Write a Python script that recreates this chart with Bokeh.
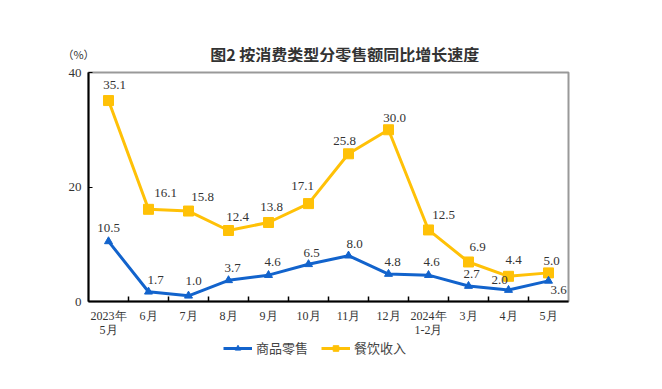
from bokeh.plotting import figure
from bokeh.layouts import column
from bokeh.models import (ColumnDataSource, LabelSet, Label, Range1d, FixedTicker,
                          Legend, LegendItem, LinearAxis)
from bokeh.embed import file_html
from bokeh.resources import INLINE

# ---- data ----
months = ["2023年\n5月", "6月", "7月", "8月", "9月", "10月", "11月", "12月", "2024年\n1-2月", "3月", "4月", "5月"]
goods = [10.5, 1.7, 1.0, 3.7, 4.6, 6.5, 8.0, 4.8, 4.6, 2.7, 2.0, 3.6]
catering = [35.1, 16.1, 15.8, 12.4, 13.8, 17.1, 25.8, 30.0, 12.5, 6.9, 4.4, 5.0]
y_ticks = [0, 20, 40]
series_names = ["商品零售", "餐饮收入"]
title_text = "图2  按消费类型分零售额同比增长速度"
unit_text = "（%）"

# ---- label offsets (style, px) ----
goods_dx = [0, 7, 5, 4, 4, 3, 6, 4, 3, 3, -9, 10]
goods_dy = [13, 12, 15, 12, 13, 11, 12, 12, 13, 12, 10, -9]
cat_dx = [6, 17, 14, 9, 3, -6, -4, 6, 15, 9, 5, 3]
cat_dy = [16, 16, 14, 14, 15, 18, 13, 12, 15, 15, 16, 12]

BLUE = "#1263CC"
YELLOW = "#FFC107"
TXT = "#333333"
SERIF = "Liberation Serif"
CJK = "Noto Sans CJK SC"
W = 656

n = len(goods)
xs = list(range(n))


def blank(fig):
    fig.xgrid.visible = False
    fig.ygrid.visible = False
    fig.outline_line_color = None
    fig.background_fill_color = "white"
    fig.border_fill_color = "white"


# ---- title strip ----
pt = figure(width=W, height=62, output_backend="svg", toolbar_location=None,
            x_range=Range1d(0, W), y_range=Range1d(0, 62),
            x_axis_location=None, y_axis_location=None, frame_align=False,
            min_border=0, min_border_left=0, min_border_right=0, min_border_top=0, min_border_bottom=0)
blank(pt)
pt.add_layout(Label(x=346, y=9, x_units="screen", y_units="screen", text=title_text,
                    text_align="center", text_baseline="middle", text_font=CJK,
                    text_font_size="16px", text_font_style="bold", text_color=TXT))
pt.add_layout(Label(x=78, y=9, x_units="screen", y_units="screen", text=unit_text,
                    text_align="center", text_baseline="middle", text_font=CJK,
                    text_font_size="11px", text_color=TXT))

# ---- main chart ----
p = figure(width=W, height=277, output_backend="svg", toolbar_location=None,
           x_range=Range1d(-0.5, n - 0.5), y_range=Range1d(0, 40),
           x_axis_location=None,
           min_border_left=88, min_border_right=88, min_border_top=10, min_border_bottom=38)
blank(p)
p.outline_line_color = "#999999"
p.outline_line_width = 2

p.yaxis.ticker = FixedTicker(ticks=y_ticks)
p.yaxis.axis_line_color = "black"
p.yaxis.axis_line_width = 2
p.yaxis.major_tick_in = 4
p.yaxis.major_tick_out = 0
p.yaxis.minor_tick_line_color = None
p.yaxis.major_tick_line_color = "black"
p.yaxis.major_label_text_font = SERIF
p.yaxis.major_label_text_font_size = "13px"
p.yaxis.major_label_text_color = TXT
p.yaxis.major_label_standoff = 7

xb = LinearAxis(ticker=FixedTicker(ticks=[i + 0.5 for i in range(n - 1)]),
                axis_line_color="black", axis_line_width=2, major_tick_in=5, major_tick_out=0,
                major_tick_line_width=1.5, minor_tick_line_color=None,
                major_label_text_font_size="0px", major_label_standoff=0)
p.add_layout(xb, "below")

xl = LinearAxis(ticker=FixedTicker(ticks=xs),
                major_label_overrides={i: m for i, m in enumerate(months)},
                axis_line_color=None, major_tick_line_color=None, minor_tick_line_color=None,
                major_tick_in=0, major_tick_out=0,
                major_label_text_font=SERIF, major_label_text_font_size="12px",
                major_label_text_line_height=1.0,
                major_label_text_color=TXT, major_label_standoff=7)
p.add_layout(xl, "below")

src_g = ColumnDataSource(dict(x=xs, y=goods, t=[f"{v:.1f}" for v in goods], dx=goods_dx, dy=goods_dy))
src_c = ColumnDataSource(dict(x=xs, y=catering, t=[f"{v:.1f}" for v in catering], dx=cat_dx, dy=cat_dy))

p.line("x", "y", source=src_c, line_color=YELLOW, line_width=3)
p.scatter("x", "y", source=src_c, marker="square", size=10, fill_color=YELLOW, line_color=YELLOW)
p.line("x", "y", source=src_g, line_color=BLUE, line_width=3)
p.scatter("x", "y", source=src_g, marker="triangle", size=8, fill_color=BLUE, line_color=BLUE)

for src in (src_g, src_c):
    p.add_layout(LabelSet(x="x", y="y", text="t", source=src, x_offset="dx", y_offset="dy",
                          text_align="center", text_baseline="middle",
                          text_font=SERIF, text_font_size="13px", text_color=TXT))

# ---- legend strip (placeholder renderers sit outside the visible range) ----
pl = figure(width=W, height=30, output_backend="svg", toolbar_location=None,
            x_range=Range1d(0, 1), y_range=Range1d(0, 1),
            x_axis_location=None, y_axis_location=None, frame_align=False,
            min_border=0, min_border_left=0, min_border_right=0, min_border_top=0, min_border_bottom=0)
blank(pl)
hidden = ColumnDataSource(dict(x=[-5], y=[-5]))
lg = pl.line("x", "y", source=hidden, line_color=BLUE, line_width=3)
sg = pl.scatter("x", "y", source=hidden, marker="triangle", size=8, fill_color=BLUE, line_color=BLUE)
lc = pl.line("x", "y", source=hidden, line_color=YELLOW, line_width=3)
sc = pl.scatter("x", "y", source=hidden, marker="square", size=10, fill_color=YELLOW, line_color=YELLOW)
legend = Legend(items=[LegendItem(label=series_names[0], renderers=[lg, sg]),
                       LegendItem(label=series_names[1], renderers=[lc, sc])],
                location=(223, 12), orientation="horizontal",
                glyph_width=29, glyph_height=14, label_height=14, label_standoff=4, spacing=13,
                padding=0, margin=0, border_line_color=None, background_fill_alpha=0,
                label_text_font=CJK, label_text_font_size="13px", label_text_line_height=1.0,
                label_text_color="#444444")
pl.add_layout(legend, "center")

layout = column(pt, p, pl, spacing=0)
open("out.html", "w").write(file_html(layout, INLINE))
